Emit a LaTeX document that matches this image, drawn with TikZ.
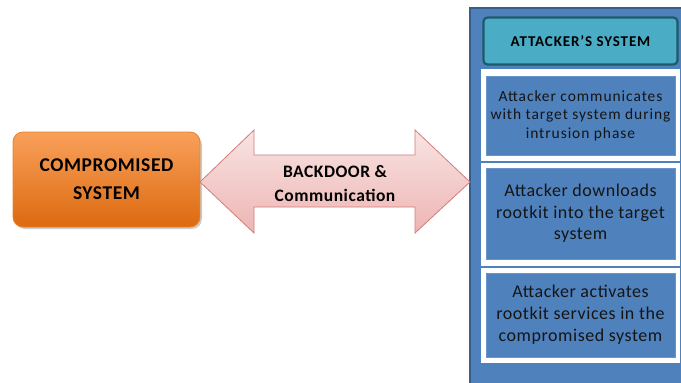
\documentclass[tikz,border=0pt]{standalone}
\usepackage{fontspec}
\setmainfont{Carlito}
\newfontfamily\wideA[LetterSpace=6]{Carlito}
\newfontfamily\wideB[LetterSpace=3]{Carlito}
\definecolor{panelblue}{HTML}{4F81BD}
\definecolor{paneledge}{HTML}{385D8A}
\definecolor{tealfill}{HTML}{4BACC6}
\definecolor{tealedge}{HTML}{1F5A6B}
\definecolor{orangetop}{HTML}{F9A05A}
\definecolor{orangebot}{HTML}{DC6A10}
\definecolor{orangeedge}{HTML}{E8822C}
\definecolor{pinktop}{HTML}{F8E4E3}
\definecolor{pinkbot}{HTML}{EDB5B3}
\definecolor{pinkedge}{HTML}{D27C7A}
\definecolor{txt}{HTML}{151515}
\tikzset{
  stepbox/.style={fill=panelblue, draw=panelblue!85!white, line width=0.6pt, text=txt, align=center, inner sep=0pt},
}
\begin{document}
\begin{tikzpicture}[x=1pt,y=-1pt]
\useasboundingbox (0,0) rectangle (681,383);
% outer panel
\draw[fill=panelblue, draw=paneledge, line width=1.5pt] (470,8) rectangle (700,400);
% header
\node[draw=tealedge, line width=2.2pt, fill=tealfill, rounded corners=4pt, minimum width=194pt, minimum height=47pt, inner sep=0pt, text=black, font=\wideA\fontsize{15}{17}\selectfont\bfseries] (hdr) at (580.5,41) {ATTACKER’S SYSTEM};
% white strips
\fill[white] (481,69) rectangle (680,161);
\fill[white] (481,163) rectangle (680,266);
\fill[white] (481,268) rectangle (680,363);
% step boxes
\node[stepbox, minimum width=189pt, minimum height=79pt, font=\wideA\fontsize{15.5}{18.5}\selectfont] (s1) at (580.5,115.5) {Attacker communicates\\with target system during\\intrusion phase};
\node[stepbox, minimum width=189pt, minimum height=91pt, font=\wideB\fontsize{18}{21.5}\selectfont] (s2) at (580.5,213.5) {Attacker downloads\\rootkit into the target\\system};
\node[stepbox, minimum width=189pt, minimum height=84pt, font=\wideB\fontsize{18}{22}\selectfont] (s3) at (580.5,315) {Attacker activates\\rootkit services in the\\compromised system};
% compromised system
\fill[black!20, rounded corners=10pt] (15,135) rectangle (202,229);
\node[rounded corners=10pt, top color=orangetop, bottom color=orangebot, draw=orangeedge, line width=0.8pt, minimum width=187pt, minimum height=95pt, align=center, text=black, font=\wideB\fontsize{19.5}{28}\selectfont\bfseries] (comp) at (106.5,179.5) {COMPROMISED\\SYSTEM};
% double arrow
\coordinate (lt) at (200,182);
\coordinate (rt) at (470,182);
\shade[top color=pinktop, bottom color=pinkbot]
  (lt) -- (254,130) -- (254,155) -- (415,155) -- (415,130) -- (rt) -- (415,233) -- (415,207) -- (254,207) -- (254,233) -- cycle;
\draw[pinkedge, line width=0.8pt] (lt) -- (254,130) -- (254,155) -- (415,155) -- (415,130) -- (rt) -- (415,233) -- (415,207) -- (254,207) -- (254,233) -- cycle;
\node[align=center, text=black, font=\wideB\fontsize{17.5}{24}\selectfont\bfseries] (bd) at (335,184) {BACKDOOR \&\\Communication};
\end{tikzpicture}
\end{document}
